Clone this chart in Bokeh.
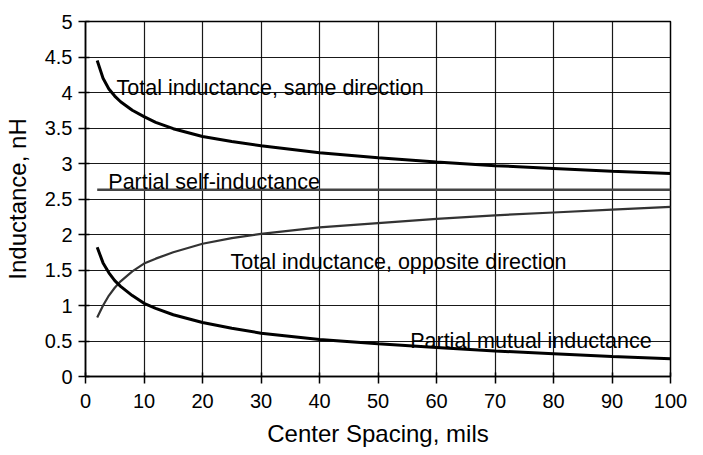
from bokeh.plotting import figure
from bokeh.models import FixedTicker, Range1d, Label
from bokeh.embed import file_html
from bokeh.resources import INLINE

# Data (center spacing, mils)
spacing = [2, 3, 4, 5, 6, 8, 10, 12, 15, 20, 25, 30, 40, 50, 60, 70, 80, 90, 100]
total_same = [4.45, 4.2, 4.05, 3.95, 3.87, 3.75, 3.66, 3.58, 3.49, 3.38, 3.31, 3.25, 3.15, 3.08, 3.02, 2.97, 2.93, 2.89, 2.86]
total_opposite = [0.83, 1.0, 1.14, 1.25, 1.34, 1.48, 1.59, 1.66, 1.75, 1.87, 1.95, 2.01, 2.1, 2.16, 2.22, 2.27, 2.31, 2.35, 2.39]
partial_mutual = [1.82, 1.6, 1.46, 1.35, 1.27, 1.14, 1.03, 0.96, 0.87, 0.76, 0.68, 0.61, 0.52, 0.46, 0.41, 0.36, 0.32, 0.28, 0.25]
self_x = [2, 100]
partial_self = [2.63, 2.63]

x_ticks = [0, 10, 20, 30, 40, 50, 60, 70, 80, 90, 100]
y_ticks = [0, 0.5, 1, 1.5, 2, 2.5, 3, 3.5, 4, 4.5, 5]
y_tick_labels = ["0", "0.5", "1", "1.5", "2", "2.5", "3", "3.5", "4", "4.5", "5"]

labels = [
    ("Total inductance, same direction", 5.3, 4.06),
    ("Partial self-inductance", 3.9, 2.74),
    ("Total inductance, opposite direction", 24.8, 1.61),
    ("Partial mutual inductance", 55.5, 0.5),
]

FONT = "Liberation Sans"

p = figure(frame_width=585, frame_height=355, output_backend="svg", toolbar_location=None,
           x_range=Range1d(0, 100), y_range=Range1d(0, 5),
           min_border_left=84, min_border_right=19, min_border_top=21, min_border_bottom=0)

p.background_fill_color = "white"
p.border_fill_color = "white"
p.outline_line_color = "black"
p.outline_line_width = 1.5

p.xaxis.ticker = FixedTicker(ticks=x_ticks)
p.yaxis.ticker = FixedTicker(ticks=y_ticks)
p.yaxis.major_label_overrides = {t: l for t, l in zip(y_ticks, y_tick_labels)}
p.xaxis.major_label_overrides = {t: str(t) for t in x_ticks}

for ax in (p.xaxis, p.yaxis):
    ax.axis_line_color = "black"
    ax.axis_line_width = 1.5
    ax.major_tick_line_color = "black"
    ax.major_tick_line_width = 1.5
    ax.major_tick_in = 4
    ax.major_tick_out = 7
    ax.minor_tick_line_color = None
    ax.major_label_text_font = FONT
    ax.major_label_text_font_size = "20px"
    ax.major_label_text_color = "black"
    ax.axis_label_text_font = FONT
    ax.axis_label_text_font_size = "24px"
    ax.axis_label_text_font_style = "normal"
    ax.axis_label_text_color = "black"

p.xaxis.axis_label = "Center Spacing, mils"
p.yaxis.axis_label = "Inductance, nH"
p.xaxis.major_label_standoff = 10
p.xaxis.axis_label_standoff = 9
p.yaxis.major_label_standoff = 6
p.yaxis.axis_label_standoff = 11

p.grid.grid_line_color = "black"
p.grid.grid_line_alpha = 0.9
p.grid.grid_line_width = 1.2

p.line(spacing, total_same, line_color="black", line_width=3)
p.line(self_x, partial_self, line_color="#444444", line_width=2.5)
p.line(spacing, total_opposite, line_color="#333333", line_width=2.2)
p.line(spacing, partial_mutual, line_color="black", line_width=3)

for text, x, y in labels:
    p.add_layout(Label(x=x, y=y, text=text, text_font=FONT, text_font_size="21.5px",
                       text_color="black", text_baseline="alphabetic", text_align="left"))

open("out.html", "w").write(file_html(p, INLINE))
